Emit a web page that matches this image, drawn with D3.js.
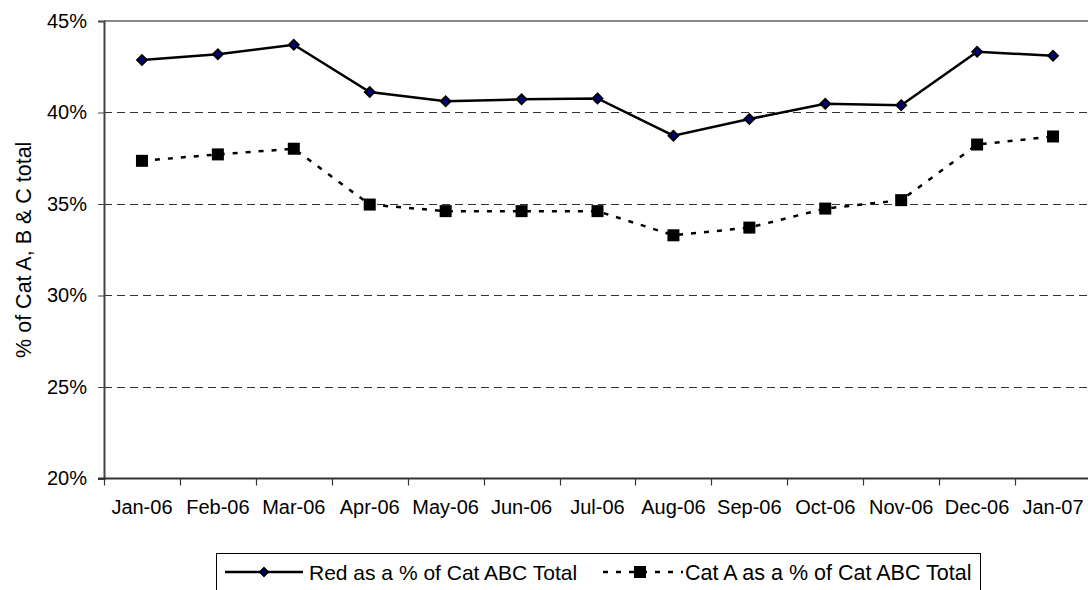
<!DOCTYPE html>
<html>
<head>
<meta charset="utf-8">
<script src="https://cdn.jsdelivr.net/npm/d3@7"></script>
<style>
  body { margin: 0; background: #fff; }
  svg { display: block; font-family: "Liberation Sans", Arial, sans-serif; }
</style>
</head>
<body>
<div id="chart"></div>
<script>
// Data
var months = ["Jan-06", "Feb-06", "Mar-06", "Apr-06", "May-06", "Jun-06", "Jul-06",
              "Aug-06", "Sep-06", "Oct-06", "Nov-06", "Dec-06", "Jan-07"];
var redPct = [42.87, 43.18, 43.70, 41.12, 40.61, 40.72, 40.77, 38.73, 39.64, 40.48, 40.40, 43.32, 43.10];
var catAPct = [37.36, 37.71, 38.02, 34.97, 34.61, 34.61, 34.61, 33.29, 33.71, 34.75, 35.21, 38.25, 38.69];
var yTicks = [20, 25, 30, 35, 40, 45];
var seriesNames = ["Red as a % of Cat ABC Total", "Cat A as a % of Cat ABC Total"];

var svgWidth = 1088;
var svgHeight = 590;
var margin = { top: 21, left: 104 };
var plotRight = 1091;
var plotBottom = 478.5;

var svg = d3.select("#chart")
    .append("svg")
    .attr("width", svgWidth)
    .attr("height", svgHeight);

// Scales
var xBand = d3.scaleBand()
    .domain(months)
    .range([margin.left, plotRight])
    .padding(0);
var xCenter = d => xBand(d) + xBand.bandwidth() / 2;
var yScale = d3.scaleLinear()
    .domain([20, 45])
    .range([plotBottom, margin.top]);

// Gridlines (dashed)
svg.append("g")
    .selectAll("line")
    .data(yTicks.filter(t => t > 20 && t < 45))
    .enter()
    .append("line")
    .attr("x1", margin.left)
    .attr("x2", plotRight)
    .attr("y1", d => Math.round(yScale(d)) + 0.5)
    .attr("y2", d => Math.round(yScale(d)) + 0.5)
    .attr("stroke", "#333")
    .attr("stroke-width", 1)
    .attr("stroke-dasharray", "8,5");

// Top border of plot area
svg.append("line")
    .attr("x1", margin.left)
    .attr("x2", plotRight)
    .attr("y1", yScale(45))
    .attr("y2", yScale(45))
    .attr("stroke", "#888")
    .attr("stroke-width", 2);

// Left axis
var leftAxis = d3.axisLeft(yScale)
    .tickValues(yTicks)
    .tickSize(6)
    .tickFormat(d => d + "%");
var yAxisG = svg.append("g")
    .attr("transform", `translate(${margin.left}, 0)`)
    .call(leftAxis);
yAxisG.select(".domain").attr("stroke", "#444").attr("stroke-width", 2);
yAxisG.selectAll(".tick line").attr("stroke", "#444");
yAxisG.selectAll(".tick text")
    .attr("x", -17)
    .attr("font-size", 20)
    .attr("font-family", "Liberation Sans, Arial, sans-serif")
    .attr("fill", "#000");

// Bottom axis: ticks at category boundaries
var xAxisG = svg.append("g");
xAxisG.append("line")
    .attr("x1", margin.left - 6)
    .attr("x2", plotRight)
    .attr("y1", plotBottom)
    .attr("y2", plotBottom)
    .attr("stroke", "#333")
    .attr("stroke-width", 2);
xAxisG.selectAll("line.tk")
    .data(months)
    .enter()
    .append("line")
    .attr("class", "tk")
    .attr("x1", d => Math.round(xBand(d)) + 0.5)
    .attr("x2", d => Math.round(xBand(d)) + 0.5)
    .attr("y1", plotBottom)
    .attr("y2", plotBottom + 7)
    .attr("stroke", "#333")
    .attr("stroke-width", 1.2);
xAxisG.selectAll("text")
    .data(months)
    .enter()
    .append("text")
    .attr("x", d => xCenter(d))
    .attr("y", 514)
    .attr("text-anchor", "middle")
    .attr("font-size", 20)
    .text(d => d);

// y axis title
svg.append("text")
    .attr("transform", `translate(31, ${(margin.top + plotBottom) / 2}) rotate(-90)`)
    .attr("text-anchor", "middle")
    .attr("font-size", 21.5)
    .text("% of Cat A, B & C total");

// Lines
var line = d3.line()
    .x((d, i) => xCenter(months[i]))
    .y(d => yScale(d));

svg.append("path")
    .datum(catAPct)
    .attr("d", line)
    .attr("fill", "none")
    .attr("stroke", "#000")
    .attr("stroke-width", 2.5)
    .attr("stroke-dasharray", "5,8");

svg.append("path")
    .datum(redPct)
    .attr("d", line)
    .attr("fill", "none")
    .attr("stroke", "#000")
    .attr("stroke-width", 2.5);

// Markers
var diamond = d3.symbol().type(d3.symbolDiamond2).size(60);
svg.append("g")
    .selectAll("path")
    .data(redPct)
    .enter()
    .append("path")
    .attr("d", diamond)
    .attr("transform", (d, i) => `translate(${xCenter(months[i])}, ${yScale(d)})`)
    .attr("fill", "#000080")
    .attr("stroke", "#000")
    .attr("stroke-width", 2);

svg.append("g")
    .selectAll("rect")
    .data(catAPct)
    .enter()
    .append("rect")
    .attr("x", (d, i) => xCenter(months[i]) - 6)
    .attr("y", d => yScale(d) - 6)
    .attr("width", 12)
    .attr("height", 12)
    .attr("fill", "#000");

// Legend
var legend = svg.append("g");
legend.append("rect")
    .attr("x", 216.5)
    .attr("y", 553.5)
    .attr("width", 764)
    .attr("height", 50)
    .attr("fill", "#fff")
    .attr("stroke", "#000")
    .attr("stroke-width", 1);

var legY = 572;
legend.append("line")
    .attr("x1", 225).attr("x2", 303)
    .attr("y1", legY).attr("y2", legY)
    .attr("stroke", "#000").attr("stroke-width", 2.5);
legend.append("path")
    .attr("d", d3.symbol().type(d3.symbolDiamond2).size(40))
    .attr("transform", `translate(264, ${legY})`)
    .attr("fill", "#000080")
    .attr("stroke", "#000")
    .attr("stroke-width", 2);
legend.append("text")
    .attr("x", 309)
    .attr("y", legY + 7.5)
    .attr("font-size", 21)
    .text(seriesNames[0]);

legend.append("line")
    .attr("x1", 603).attr("x2", 683)
    .attr("y1", legY).attr("y2", legY)
    .attr("stroke", "#000").attr("stroke-width", 2.5)
    .attr("stroke-dasharray", "5,8");
legend.append("rect")
    .attr("x", 634).attr("y", legY - 6)
    .attr("width", 12).attr("height", 12)
    .attr("fill", "#000");
legend.append("text")
    .attr("x", 685)
    .attr("y", legY + 7.5)
    .attr("font-size", 21.5)
    .text(seriesNames[1]);
</script>
</body>
</html>
